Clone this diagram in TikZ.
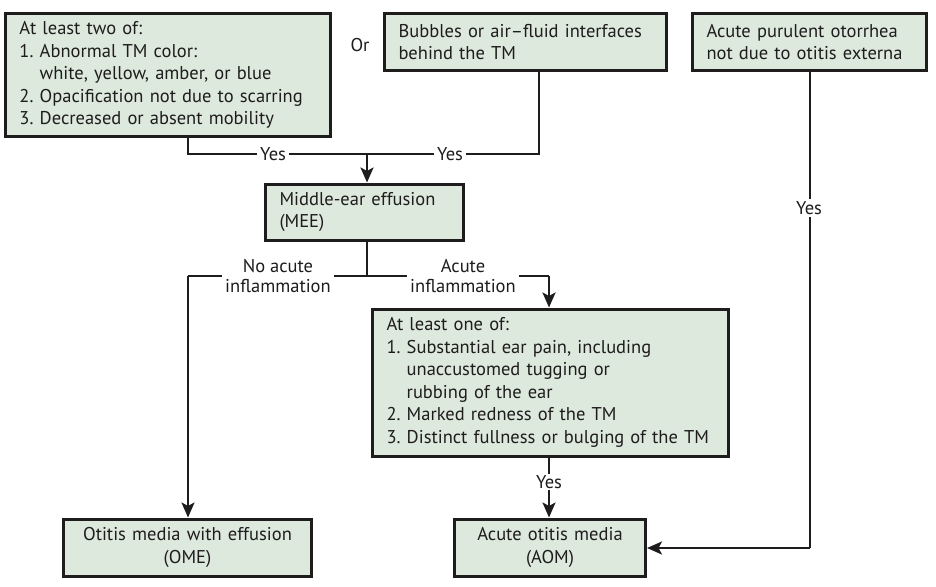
\documentclass[tikz,border=0pt]{standalone}
\usepackage{fontspec}
\setmainfont{PT Sans}
\usetikzlibrary{arrows.meta}
\definecolor{boxfill}{HTML}{DEE9DD}
\definecolor{ink}{HTML}{1E1C1D}
\newcommand{\ind}{\hphantom{1.}\ }
\begin{document}
\frenchspacing
\begin{tikzpicture}[x=1pt,y=-1pt,
  every node/.style={font=\fontsize{18.5}{22.5}\selectfont, text=ink},
  boxnode/.style={draw=ink, line width=3pt, fill=boxfill, inner xsep=14pt, inner ysep=0pt, align=left},
  cbox/.style={boxnode, align=center},
  conn/.style={draw=ink, line width=2.5pt},
  arr/.style={conn, -{Stealth[length=15pt,width=13pt,inset=3.5pt]}},
  lbl/.style={fill=white, inner sep=3pt, align=center}]
\useasboundingbox (0,0) rectangle (936,586);
% boxes
\node[boxnode, text width=297pt, minimum height=122pt] (b1) at (168,75) {At least two of:\\1. Abnormal TM color:\\\ind white, yellow, amber, or blue\\2. Opacification not due to scarring\\3. Decreased or absent mobility};
\node[boxnode, text width=254pt, minimum height=56pt] (b2) at (525.5,42) {Bubbles or air--fluid interfaces\\behind the TM};
\node[boxnode, text width=206pt, minimum height=56pt] (b3) at (809.5,42) {Acute purulent otorrhea\\not due to otitis externa};
\node[boxnode, text width=170pt, minimum height=56pt] (mee) at (364.5,212) {Middle-ear effusion\\(MEE)};
\node[boxnode, text width=328pt, minimum height=147pt] (b4) at (550.5,382.5) {At least one of:\\1. Substantial ear pain, including\\\ind unaccustomed tugging or\\\ind rubbing of the ear\\2. Marked redness of the TM\\3. Distinct fullness or bulging of the TM};
\node[cbox, text width=220pt, minimum height=57pt] (ome) at (187.5,547.5) {Otitis media with effusion\\(OME)};
\node[cbox, text width=163pt, minimum height=57pt] (aom) at (550,547.5) {Acute otitis media\\(AOM)};
\node (or) at (360,45) {Or};
% junction coordinates
\coordinate (j1) at (367,154);
\coordinate (j2) at (367,276);
\coordinate (jl) at (188,276);
\coordinate (jr) at (549,276);
\coordinate (jc) at (810,548);
% connectors top
\draw[conn] (b1.south -| 188,0) |- (j1);
\draw[conn] (b2.south -| 539,0) |- (j1);
\draw[arr] (j1) -- (mee.north -| j1);
\node[lbl] (y1) at (273,154) {Yes};
\node[lbl] (y2) at (450,154) {Yes};
% MEE split
\draw[conn] (mee.south -| j2) -- (j2);
\draw[conn] (jl) -- (jr);
\draw[arr] (jl) -- (ome.north -| jl);
\draw[arr] (jr) -- (b4.north -| jr);
\node[lbl] (na) at (278,276) {No acute\\[-2pt]inflammation};
\node[lbl] (ai) at (463,276) {Acute\\[-2pt]inflammation};
% b4 to AOM
\draw[arr] (b4.south -| jr) -- (aom.north -| jr);
\node[lbl, inner sep=1pt] (y3) at (549,482) {Yes};
% otorrhea to AOM
\draw[conn] (b3.south -| jc) -- (jc);
\draw[arr] (jc) -- (aom.east |- jc);
\node[lbl, inner sep=2pt] (y4) at (809,208) {Yes};
\end{tikzpicture}
\end{document}
